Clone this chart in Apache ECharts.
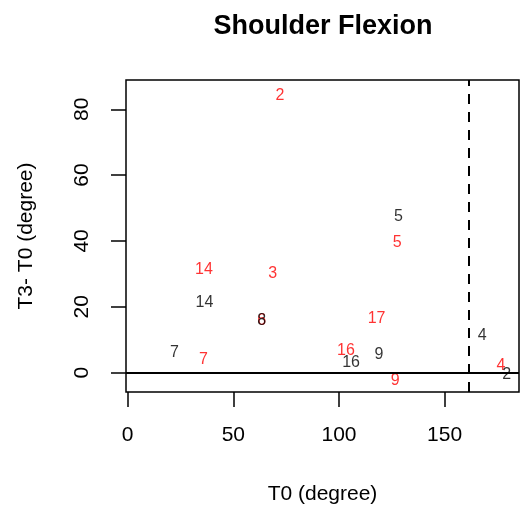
<!DOCTYPE html>
<html>
<head>
<meta charset="utf-8">
<script src="https://cdn.jsdelivr.net/npm/echarts@6/dist/echarts.min.js"></script>
<style>
  html, body { margin: 0; padding: 0; background: #fff; }
  #chart { width: 520px; height: 510px; }
</style>
</head>
<body>
<div id="chart"></div>
<script>
// T0 vs change at T3, one label per subject id
const redIds = ['2', '5', '14', '3', '6', '17', '16', '7', '9', '4'];
const redT0 = [72.1, 127.6, 36.1, 68.6, 63.4, 117.8, 103.3, 35.8, 126.6, 176.7];
const redDiff = [84.3, 39.6, 31.3, 30.1, 15.9, 16.4, 6.8, 4.0, -2.3, 2.2];

const blackIds = ['5', '14', '8', '7', '16', '9', '4', '2'];
const blackT0 = [128.1, 36.3, 63.4, 22.1, 105.7, 118.9, 167.8, 179.4];
const blackDiff = [47.5, 21.2, 15.9, 6.2, 3.0, 5.5, 11.3, -0.5];

const xTicks = [0, 50, 100, 150];
const yTicks = [0, 20, 40, 60, 80];
const cutoff = 161.5;

const font = 'Liberation Sans, Arial, sans-serif';

function labelSeries(ids, xs, ys, color) {
  return {
    type: 'scatter',
    symbol: 'circle',
    symbolSize: 0.1,
    itemStyle: { color: 'rgba(0,0,0,0)' },
    label: {
      show: true,
      position: 'inside',
      formatter: p => p.data[2],
      color: color,
      fontSize: 16,
      fontFamily: font
    },
    data: ids.map((id, i) => [xs[i], ys[i], id])
  };
}

const chart = echarts.init(document.getElementById('chart'));

const redSeries = labelSeries(redIds, redT0, redDiff, '#ff0000');
redSeries.markLine = {
  silent: true,
  symbol: 'none',
  label: { show: false },
  data: [
    { yAxis: 0, lineStyle: { color: '#000', width: 2, type: 'solid' } },
    { xAxis: cutoff, lineStyle: { color: '#000', width: 2, type: [10, 8] } }
  ]
};

chart.setOption({
  animation: false,
  title: {
    text: 'Shoulder Flexion',
    left: 318,
    textAlign: 'center',
    top: 8,
    textStyle: { fontSize: 27, fontWeight: 'bold', color: '#000', fontFamily: font }
  },
  grid: {
    left: 126, top: 80, width: 393, height: 312.7,
    show: true, borderColor: '#000', borderWidth: 1.5
  },
  xAxis: {
    type: 'value',
    min: -0.8, max: 185.2,
    name: 'T0 (degree)',
    nameLocation: 'middle',
    nameGap: 92,
    nameTextStyle: { fontSize: 21, color: '#000', fontFamily: font },
    axisLine: { show: false, onZero: false },
    axisTick: { show: true, length: 15, customValues: xTicks, lineStyle: { color: '#000', width: 1.5 } },
    axisLabel: { customValues: xTicks, margin: 33, fontSize: 21, color: '#000', fontFamily: font },
    splitLine: { show: false }
  },
  yAxis: {
    type: 'value',
    min: -5.9, max: 88.9,
    name: 'T3- T0 (degree)',
    nameLocation: 'middle',
    nameGap: 89,
    nameRotate: 90,
    nameTextStyle: { fontSize: 21, color: '#000', fontFamily: font },
    axisLine: { show: false, onZero: false },
    axisTick: { show: true, length: 15, customValues: yTicks, lineStyle: { color: '#000', width: 1.5 } },
    axisLabel: { customValues: yTicks, rotate: 90, margin: 33, fontSize: 21, color: '#000', fontFamily: font },
    splitLine: { show: false }
  },
  series: [
    redSeries,
    labelSeries(blackIds, blackT0, blackDiff, '#000')
  ]
});
</script>
</body>
</html>
